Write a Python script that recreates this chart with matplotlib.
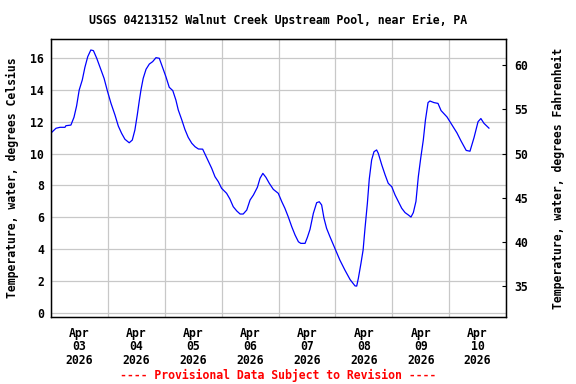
import numpy as np
import pandas as pd
import matplotlib
matplotlib.use('Agg')
import matplotlib.pyplot as plt
import matplotlib.dates as mdates

# hours after 2026-04-03 00:00 and water temperature (deg C)
hours = [0.0, 2.1, 3.8, 5.9, 6.3, 8.4, 9.7, 10.8, 11.9, 13.2, 14.3, 15.5, 16.8,
         17.9, 19.3, 20.7, 22.4, 23.8, 25.3, 27.0, 28.4, 29.8, 31.2, 33.0, 34.3,
         35.4, 36.4, 37.3, 38.0, 38.9, 40.1, 41.5, 42.9, 44.3, 45.7, 47.1, 48.5,
         49.9, 51.4, 52.7, 53.7, 55.2, 56.5, 57.9, 59.4, 60.8, 62.2, 64.0, 65.7,
         67.8, 69.2, 70.6, 72.0, 74.1, 75.5, 76.9, 78.4, 79.8, 81.1, 82.6, 84.0,
         85.4, 87.1, 88.2, 89.4, 90.7, 92.1, 93.8, 95.9, 97.4, 98.7, 100.1, 101.6,
         103.0, 104.4, 105.4, 107.2, 108.2, 109.3, 110.7, 112.1, 113.2, 114.2,
         115.2, 116.3, 117.7, 119.8, 121.9, 124.0, 126.2, 128.3, 129.0, 129.7,
         130.8, 131.7, 132.5, 133.5, 134.3, 135.3, 136.3, 137.4, 138.1, 139.6,
         141.0, 142.3, 143.8, 145.2, 146.6, 148.0, 149.4, 150.8, 151.9, 152.9,
         154.0, 155.0, 156.0, 157.1, 158.0, 159.1, 159.9, 161.6, 163.3, 164.6,
         167.1, 169.2, 171.3, 173.0, 175.2, 176.8, 178.5, 180.2, 181.4, 182.7,
         184.8]
temp_c = [11.29, 11.59, 11.65, 11.65, 11.75, 11.79, 12.28, 12.99, 13.99, 14.62,
          15.41, 16.08, 16.50, 16.46, 15.98, 15.41, 14.72, 13.93, 13.16, 12.42,
          11.73, 11.27, 10.90, 10.68, 10.85, 11.48, 12.42, 13.36, 14.03, 14.72,
          15.29, 15.62, 15.77, 16.02, 15.98, 15.41, 14.82, 14.16, 13.95, 13.36,
          12.74, 12.11, 11.52, 11.02, 10.65, 10.43, 10.29, 10.28, 9.75, 9.08,
          8.55, 8.24, 7.82, 7.51, 7.15, 6.67, 6.40, 6.21, 6.21, 6.46, 7.09, 7.40,
          7.89, 8.45, 8.76, 8.51, 8.14, 7.76, 7.51, 6.98, 6.57, 6.04, 5.41, 4.89,
          4.47, 4.37, 4.37, 4.75, 5.25, 6.25, 6.92, 6.98, 6.78, 5.94, 5.31, 4.79,
          4.06, 3.32, 2.70, 2.10, 1.70, 1.69, 2.18, 3.12, 3.95, 5.31, 6.88, 8.40,
          9.60, 10.12, 10.23, 10.02, 9.28, 8.66, 8.14, 7.92, 7.40, 6.98, 6.57,
          6.30, 6.15, 6.02, 6.30, 7.00, 8.55, 9.70, 10.85, 12.1, 13.2, 13.3, 13.2,
          13.15, 12.7, 12.3, 11.8, 11.3, 10.8, 10.2, 10.15, 11.0, 12.0, 12.2,
          11.9, 11.6]

title = 'USGS 04213152 Walnut Creek Upstream Pool, near Erie, PA'
left_label = 'Temperature, water, degrees Celsius'
right_label = 'Temperature, water, degrees Fahrenheit'
footer = '---- Provisional Data Subject to Revision ----'

start = pd.Timestamp('2026-04-03')
times = start + pd.to_timedelta(hours, unit='h')

plt.rcParams['font.family'] = 'DejaVu Sans Mono'
plt.rcParams['font.weight'] = 'bold'
plt.rcParams['axes.titleweight'] = 'bold'
plt.rcParams['axes.labelweight'] = 'bold'
plt.rcParams['font.size'] = 8.3
plt.rcParams['axes.titlesize'] = 8.3
plt.rcParams['axes.labelsize'] = 8.3

fig = plt.figure(figsize=(5.76, 3.84), dpi=100)
ax = fig.add_axes([51 / 576, 1 - 317 / 384, 455 / 576, 278 / 384])

ax.plot(times, temp_c, color='#0000ff', lw=0.9)

ylo, yhi = -0.25, 17.19
ax.set_ylim(ylo, yhi)
ax.set_xlim(start, start + pd.Timedelta(days=8))
ax.set_yticks(np.arange(0, 17, 2))

# grid at midnight, labels at noon
ax.xaxis.set_major_locator(mdates.DayLocator())
ax.xaxis.set_major_formatter(plt.NullFormatter())
ax.xaxis.set_minor_locator(mdates.HourLocator(byhour=12))
ax.xaxis.set_minor_formatter(mdates.DateFormatter('%b\n%d\n%Y'))
ax.tick_params(axis='x', which='both', length=0, pad=7)
for lbl in ax.xaxis.get_minorticklabels():
    lbl.set_linespacing(1.05)
ax.tick_params(axis='y', length=0, pad=5)
ax.grid(True, which='major', color='#c8c8c8', lw=0.9)
ax.set_axisbelow(True)
for sp in ax.spines.values():
    sp.set_linewidth(1.0)

ax.set_ylabel(left_label, labelpad=8)
ax.set_title(title, pad=11)

ax2 = ax.twinx()
ax2.set_ylim(ylo * 1.8 + 32, yhi * 1.8 + 32)
ax2.set_yticks([35, 40, 45, 50, 55, 60])
ax2.tick_params(axis='y', direction='in', length=3, pad=6)
ax2.set_ylabel(right_label, labelpad=17)

fig.text((51 + 506) / 2 / 576, 1 - 375 / 384, footer, color='red',
         ha='center', va='center')

fig.savefig('out.png', dpi=100)
